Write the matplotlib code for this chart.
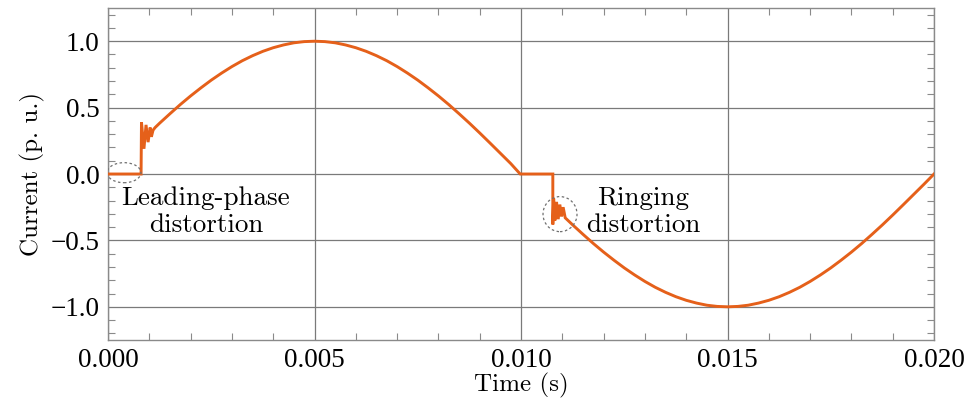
import numpy as np
import matplotlib.pyplot as plt
from matplotlib.patches import Ellipse
from matplotlib.ticker import MultipleLocator

plt.rcParams['font.family'] = 'serif'
plt.rcParams['font.serif'] = ['cmr10']
plt.rcParams['mathtext.fontset'] = 'cm'
plt.rcParams['axes.formatter.use_mathtext'] = True

# dead time before conduction starts
t_dead1 = [0.0, 0.0008]
i_dead1 = [0.0, 0.0]

# ringing right after turn-on
t_ring1 = [0.0008, 0.00081, 0.00087, 0.00092, 0.00097, 0.00102, 0.00105, 0.00109, 0.00114]
i_ring1 = [0.0, 0.39, 0.19, 0.37, 0.24, 0.35, 0.28, 0.33, 0.35]

# positive half cycle
t_pos = [0.00125, 0.0015, 0.00175, 0.002, 0.00225, 0.0025, 0.00275, 0.003,
         0.00325, 0.0035, 0.00375, 0.004, 0.00425, 0.0045, 0.00475, 0.005,
         0.00525, 0.0055, 0.00575, 0.006, 0.00625, 0.0065, 0.00675, 0.007,
         0.00725, 0.0075, 0.00775, 0.008, 0.00825, 0.0085, 0.00875, 0.009,
         0.00925, 0.0095, 0.00975, 0.00998]
i_pos = [0.383, 0.454, 0.523, 0.588, 0.649, 0.707, 0.760, 0.809,
         0.853, 0.891, 0.924, 0.951, 0.972, 0.988, 0.997, 1.0,
         0.997, 0.988, 0.972, 0.951, 0.924, 0.891, 0.853, 0.809,
         0.760, 0.707, 0.649, 0.588, 0.523, 0.454, 0.383, 0.309,
         0.233, 0.156, 0.079, 0.0]

# dead time around the zero crossing
t_dead2 = [0.01077]
i_dead2 = [0.0]

# ringing after the second turn-on
t_ring2 = [0.01077, 0.01079, 0.01082, 0.01086, 0.0109, 0.01094, 0.01098, 0.01102, 0.01107]
i_ring2 = [-0.38, -0.185, -0.35, -0.21, -0.34, -0.23, -0.32, -0.25, -0.33]

# negative half cycle
t_neg = [0.01125, 0.0115, 0.01175, 0.012, 0.01225, 0.0125, 0.01275, 0.013,
         0.01325, 0.0135, 0.01375, 0.014, 0.01425, 0.0145, 0.01475, 0.015,
         0.01525, 0.0155, 0.01575, 0.016, 0.01625, 0.0165, 0.01675, 0.017,
         0.01725, 0.0175, 0.01775, 0.018, 0.01825, 0.0185, 0.01875, 0.019,
         0.01925, 0.0195, 0.01975, 0.02]
i_neg = [-0.383, -0.454, -0.523, -0.588, -0.649, -0.707, -0.760, -0.809,
         -0.853, -0.891, -0.924, -0.951, -0.972, -0.988, -0.997, -1.0,
         -0.997, -0.988, -0.972, -0.951, -0.924, -0.891, -0.853, -0.809,
         -0.760, -0.707, -0.649, -0.588, -0.523, -0.454, -0.383, -0.309,
         -0.233, -0.156, -0.079, 0.0]

t = np.array(t_dead1 + t_ring1 + t_pos + t_dead2 + t_ring2 + t_neg)
i = np.array(i_dead1 + i_ring1 + i_pos + i_dead2 + i_ring2 + i_neg)

fig = plt.figure(figsize=(9.68, 4.07), dpi=100)
ax = fig.add_axes([0.1116, 0.1646, 0.8533, 0.8157])

ax.plot(t, i, color='#E5601A', lw=2.1, zorder=3, solid_joinstyle='miter')

ax.set_xlim(0, 0.02)
ax.set_ylim(-1.25, 1.25)
ax.xaxis.set_major_locator(MultipleLocator(0.005))
ax.xaxis.set_minor_locator(MultipleLocator(0.001))
ax.yaxis.set_major_locator(MultipleLocator(0.5))
ax.yaxis.set_minor_locator(MultipleLocator(0.1))
ax.xaxis.set_major_formatter(plt.FuncFormatter(lambda v, p: f'{v:.3f}'))
ax.yaxis.set_major_formatter(plt.FuncFormatter(
    lambda v, p: ('\u2212' if v < -1e-9 else '') + f'{abs(v):.1f}'))

ax.grid(True, which='major', color='#7a7a7a', lw=0.9)
for s in ax.spines.values():
    s.set_color('#8a8a8a')
    s.set_linewidth(1.0)
ax.tick_params(which='both', direction='in', top=True, right=True,
               color='#8a8a8a', labelsize=19.5, pad=6)
ax.tick_params(which='major', length=0)
ax.tick_params(which='minor', length=5, width=0.8)
for lbl in ax.get_xticklabels() + ax.get_yticklabels():
    lbl.set_family('Liberation Serif')

ax.set_xlabel('Time (s)', fontsize=18, labelpad=0)
ax.set_ylabel('Current (p. u.)', fontsize=18, labelpad=4)

ax.add_patch(Ellipse((0.000387, 0.01), 0.00082, 0.151, fill=False,
                     ec='#707070', lw=0.9, ls=(0, (2, 2)), zorder=4))
ax.add_patch(Ellipse((0.010944, -0.302), 0.000823, 0.264, fill=False,
                     ec='#707070', lw=0.9, ls=(0, (2, 2)), zorder=4))

ax.text(0.00237, -0.283, 'Leading-phase\ndistortion', fontsize=19.5,
        ha='center', va='center', linespacing=1.2)
ax.text(0.01295, -0.283, 'Ringing\ndistortion', fontsize=19.5,
        ha='center', va='center', linespacing=1.2)

fig.savefig('out.png', dpi=100)
